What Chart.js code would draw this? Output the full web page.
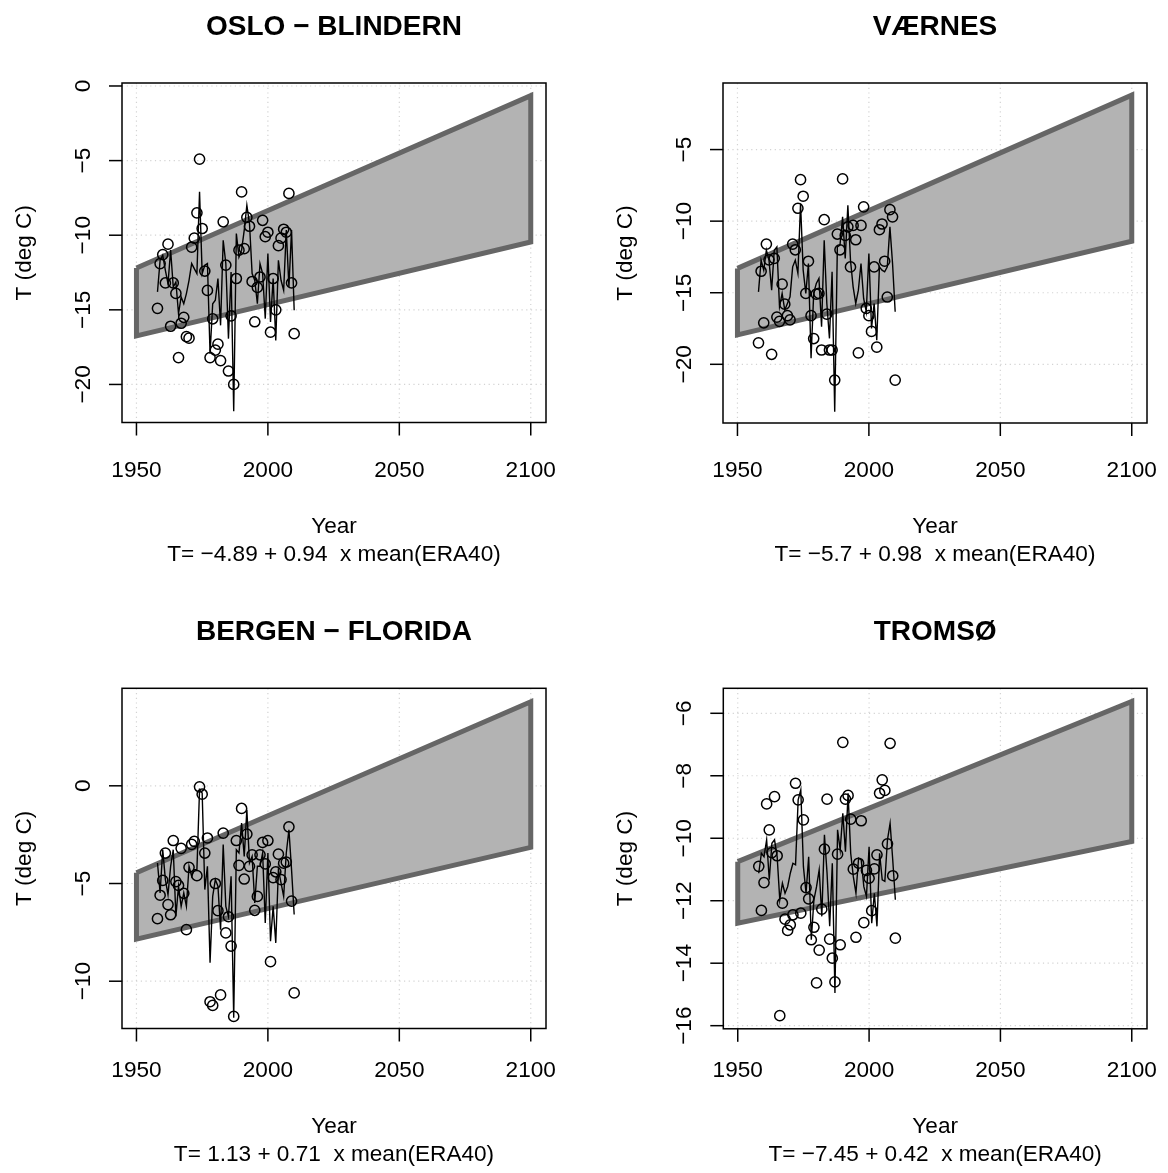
<!DOCTYPE html>
<html>
<head>
<meta charset="utf-8">
<script src="https://cdn.jsdelivr.net/npm/chart.js@4.4.1/dist/chart.umd.min.js"></script>
<style>
  body { margin: 0; background: #fff; width: 1168px; height: 1173px; position: relative; overflow: hidden; }
  .panel { position: absolute; }
</style>
</head>
<body>
<div class="panel" style="left:0;top:0"><canvas id="oslo" width="584" height="587"></canvas></div>
<div class="panel" style="left:584px;top:0"><canvas id="varnes" width="584" height="587"></canvas></div>
<div class="panel" style="left:0;top:586px"><canvas id="bergen" width="584" height="587"></canvas></div>
<div class="panel" style="left:584px;top:586px"><canvas id="tromso" width="584" height="587"></canvas></div>
<script>
// years with observations / downscaled values
const years = [1958, 1959, 1960, 1961, 1962, 1963, 1964, 1965, 1966, 1967,
  1968, 1969, 1970, 1971, 1972, 1973, 1974, 1975, 1976, 1977,
  1978, 1979, 1980, 1981, 1982, 1983, 1984, 1985, 1986, 1987,
  1988, 1989, 1990, 1991, 1992, 1993, 1994, 1995, 1996, 1997,
  1998, 1999, 2000, 2001, 2002, 2003, 2004, 2005, 2006, 2007,
  2008, 2009, 2010];
const bandYears = [1950, 2100];
const xTicks = [1950, 2000, 2050, 2100];

// OSLO - BLINDERN
const osloObs = [-14.9, -11.9, -11.3, -13.2, -10.6, -16.1, -13.2, -13.9, -18.2, -15.9,
  -15.5, -16.8, -16.9, -10.8, -10.2, -8.5, -4.9, -9.55, -12.4, -13.7,
  -18.2, -15.6, -17.7, -17.3, -18.4, -9.1, -12.0, -19.1, -15.4, -20.0,
  -12.9, -11.0, -7.1, -10.9, -8.8, -9.4, -13.1, -15.8, -13.5, -12.8,
  -9.0, -10.1, -9.8, -16.5, -12.9, -15.0, -10.7, -10.2, -9.6, -9.8,
  -7.2, -13.2, -16.6];
const osloModel = [-13.8, -11.68, -11.34, -12.35, -13.24, -11.0, -13.47, -13.13, -15.26, -14.14,
  -14.59, -13.91, -13.02, -11.9, -12.24, -12.57, -7.09, -12.57, -12.01, -11.9,
  -17.94, -14.59, -14.36, -12.91, -16.04, -10.34, -11.9, -16.93, -12.46, -21.79,
  -9.89, -11.46, -11.0, -9.66, -7.99, -9.22, -12.57, -13.02, -14.59, -11.9,
  -12.57, -15.59, -11.23, -15.82, -12.91, -17.05, -11.68, -13.02, -13.69, -9.66,
  -13.47, -9.66, -15.03];
const osloUpper = [-12.2, -0.65];
const osloLower = [-16.75, -10.45];
const osloYTicks = [0, -5, -10, -15, -20];

// VÆRNES
const varnesObs = [-18.5, -13.5, -17.1, -11.6, -12.7, -19.3, -12.6, -16.7, -17.0, -14.4,
  -15.8, -16.6, -16.9, -11.6, -12.0, -9.1, -7.1, -8.26, -15.05, -12.8,
  -16.6, -18.2, -15.1, -15.05, -19.0, -9.9, -16.5, -19.0, -19.0, -21.1,
  -10.9, -12.0, -7.05, -11.0, -10.4, -13.2, -10.3, -11.3, -19.2, -10.3,
  -9.0, -16.1, -16.6, -17.7, -13.2, -18.8, -10.6, -10.2, -12.8, -15.3,
  -9.2, -9.7, -21.1];
const varnesModel = [-14.94, -12.73, -13.42, -12.03, -12.73, -14.82, -12.03, -11.8, -15.98, -15.05,
  -16.21, -15.75, -15.29, -13.19, -12.73, -13.65, -8.77, -13.42, -15.05, -12.96,
  -19.58, -15.05, -14.35, -14.0, -17.38, -11.33, -15.75, -18.19, -13.54, -23.31,
  -11.8, -11.68, -9.7, -12.61, -8.89, -12.73, -14.59, -15.75, -14.82, -12.96,
  -15.4, -16.33, -12.26, -17.49, -15.75, -18.31, -13.19, -13.42, -13.54, -13.19,
  -10.4, -12.96, -16.33];
const varnesUpper = [-13.3, -1.2];
const varnesLower = [-17.95, -11.4];
const varnesYTicks = [-5, -10, -15, -20];

// BERGEN - FLORIDA
const bergenObs = [-6.8, -5.6, -4.84, -3.44, -6.08, -6.6, -2.8, -4.9, -5.1, -3.2,
  -5.5, -7.36, -4.17, -3.0, -2.84, -4.6, -0.05, -0.43, -3.44, -2.67,
  -11.05, -11.24, -5.0, -6.39, -10.7, -2.42, -7.53, -6.7, -8.2, -11.8,
  -2.8, -4.07, -1.16, -4.77, -2.47, -4.12, -3.53, -6.37, -5.66, -3.53,
  -2.9, -4.0, -2.8, -9.0, -4.7, -4.4, -3.5, -4.8, -3.96, -3.9,
  -2.1, -5.9, -10.6];
const bergenModel = [-3.95, -5.48, -3.27, -4.8, -5.57, -4.12, -3.27, -6.68, -5.14, -6.17,
  -5.48, -6.17, -4.12, -4.63, -4.29, -4.29, -0.2, -0.37, -5.31, -4.12,
  -9.06, -5.66, -4.8, -5.14, -7.36, -3.01, -6.17, -6.68, -4.63, -11.87,
  -3.27, -3.44, -1.91, -3.61, -1.23, -3.95, -3.61, -5.99, -4.12, -4.12,
  -3.44, -7.02, -3.44, -7.95, -6.17, -8.04, -4.29, -4.97, -5.66, -3.44,
  -2.25, -4.29, -6.59];
const bergenUpper = [-4.45, 4.3];
const bergenLower = [-7.85, -3.15];
const bergenYTicks = [0, -5, -10];

// TROMSØ
const tromsoObs = [-10.9, -12.31, -11.42, -8.9, -9.73, -10.46, -8.67, -10.56, -15.68, -12.08,
  -12.59, -12.95, -12.77, -12.45, -8.24, -8.77, -12.4, -9.41, -11.58, -11.94,
  -13.25, -12.85, -14.63, -13.58, -12.27, -10.35, -8.75, -13.23, -13.84, -14.6,
  -10.51, -13.41, -6.93, -8.75, -8.63, -9.39, -10.99, -13.17, -10.8, -9.44,
  -12.7, -11.03, -11.28, -12.32, -10.98, -10.53, -8.56, -8.13, -8.47, -10.18,
  -6.96, -11.2, -13.2];
const tromsoModel = [-11.12, -10.48, -10.59, -10.05, -11.33, -10.16, -10.05, -10.59, -11.97, -11.44,
  -11.76, -11.55, -11.12, -10.8, -10.85, -8.77, -8.45, -10.91, -11.76, -10.59,
  -13.25, -11.97, -11.55, -11.01, -12.5, -9.89, -11.12, -12.82, -10.8, -14.95,
  -9.73, -10.37, -9.2, -10.43, -8.56, -10.48, -11.23, -11.76, -10.64, -10.69,
  -11.55, -11.86, -10.27, -12.72, -11.76, -12.82, -10.48, -11.33, -11.38, -10.05,
  -9.52, -10.69, -11.97];
const tromsoUpper = [-10.75, -5.62];
const tromsoLower = [-12.72, -10.1];
const tromsoYTicks = [-6, -8, -10, -12, -14, -16];

const FONT = '"Liberation Sans", Arial, Helvetica, sans-serif';
const minus = v => String(v).replace('-', '\u2212');

const panels = [
  { id: 'oslo', title: 'OSLO \u2212 BLINDERN', formula: 'T= \u22124.89 + 0.94  x mean(ERA40)',
    obs: osloObs, model: osloModel, upper: osloUpper, lower: osloLower, yTicks: osloYTicks,
    yMin: -22.55, yMax: 0.2, box: { l: 122, t: 83, r: 546, b: 422.5 }, textDy: 0 },
  { id: 'varnes', title: 'V\u00c6RNES', formula: 'T= \u22125.7 + 0.98  x mean(ERA40)',
    obs: varnesObs, model: varnesModel, upper: varnesUpper, lower: varnesLower, yTicks: varnesYTicks,
    yMin: -24.1, yMax: -0.35, box: { l: 139, t: 83, r: 563, b: 423 }, textDy: 0 },
  { id: 'bergen', title: 'BERGEN \u2212 FLORIDA', formula: 'T= 1.13 + 0.71  x mean(ERA40)',
    obs: bergenObs, model: bergenModel, upper: bergenUpper, lower: bergenLower, yTicks: bergenYTicks,
    yMin: -12.42, yMax: 4.99, box: { l: 122, t: 102.3, r: 546, b: 442.5 }, textDy: -6 },
  { id: 'tromso', title: 'TROMS\u00d8', formula: 'T= \u22127.45 + 0.42  x mean(ERA40)',
    obs: tromsoObs, model: tromsoModel, upper: tromsoUpper, lower: tromsoLower, yTicks: tromsoYTicks,
    yMin: -16.1, yMax: -5.2, box: { l: 139.3, t: 102.3, r: 563, b: 442.8 }, textDy: -6 }
];

// R-style frame: dotted grid, box, outside ticks, rotated y labels, titles
const rframe = {
  id: 'rframe',
  beforeDatasetsDraw(chart, args, opts) {
    const { ctx, chartArea: a, scales: { x, y } } = chart;
    ctx.save();
    ctx.strokeStyle = '#d3d3d3';
    ctx.lineWidth = 1.2;
    ctx.setLineDash([1.2, 3.5]);
    opts.xTicks.forEach(v => {
      const px = x.getPixelForValue(v);
      ctx.beginPath(); ctx.moveTo(px, a.top); ctx.lineTo(px, a.bottom); ctx.stroke();
    });
    opts.yTicks.forEach(v => {
      const py = y.getPixelForValue(v);
      ctx.beginPath(); ctx.moveTo(a.left, py); ctx.lineTo(a.right, py); ctx.stroke();
    });
    ctx.restore();
  },
  afterDraw(chart, args, opts) {
    const { ctx, chartArea: a, scales: { x, y } } = chart;
    const cx = (a.left + a.right) / 2;
    const dy = opts.textDy;
    ctx.save();
    ctx.strokeStyle = '#000';
    ctx.lineWidth = 1.5;
    ctx.strokeRect(a.left, a.top, a.right - a.left, a.bottom - a.top);
    ctx.fillStyle = '#000';
    ctx.font = '22.6px ' + FONT;
    ctx.textAlign = 'center';
    ctx.textBaseline = 'alphabetic';
    opts.xTicks.forEach(v => {
      const px = x.getPixelForValue(v);
      ctx.beginPath(); ctx.moveTo(px, a.bottom); ctx.lineTo(px, a.bottom + 13); ctx.stroke();
      ctx.fillText(String(v), px, a.bottom + 54 + dy);
    });
    opts.yTicks.forEach(v => {
      const py = y.getPixelForValue(v);
      ctx.beginPath(); ctx.moveTo(a.left, py); ctx.lineTo(a.left - 13, py); ctx.stroke();
      ctx.save();
      ctx.translate(a.left - 32, py);
      ctx.rotate(-Math.PI / 2);
      ctx.fillText(minus(v), 0, 0);
      ctx.restore();
    });
    ctx.save();
    ctx.translate(a.left - 91, (a.top + a.bottom) / 2);
    ctx.rotate(-Math.PI / 2);
    ctx.fillText('T (deg C)', 0, 0);
    ctx.restore();
    ctx.fillText('Year', cx, a.bottom + 110 + dy);
    ctx.fillText(opts.formula, cx, a.bottom + 138 + dy);
    ctx.font = 'bold 28px ' + FONT;
    ctx.fillText(opts.title, cx, a.top - 48);
    ctx.restore();
  }
};

panels.forEach(p => {
  const W = 584, H = 587;
  const pts = (xs, ys) => xs.map((v, i) => ({ x: v, y: ys[i] }));
  const outline = [
    { x: bandYears[0], y: p.upper[0] }, { x: bandYears[1], y: p.upper[1] },
    { x: bandYears[1], y: p.lower[1] }, { x: bandYears[0], y: p.lower[0] },
    { x: bandYears[0], y: p.upper[0] }
  ];
  new Chart(document.getElementById(p.id), {
    type: 'scatter',
    data: {
      datasets: [
        { data: pts(years, p.obs), showLine: false, pointStyle: 'circle', pointRadius: 5.1,
          pointBorderWidth: 1.5, pointBorderColor: '#000', pointBackgroundColor: 'rgba(0,0,0,0)', order: 0 },
        { data: pts(years, p.model), showLine: true, borderColor: '#000', borderWidth: 1.4,
          pointRadius: 0, tension: 0, fill: false, order: 1 },
        { data: outline, showLine: true, borderColor: '#666666', borderWidth: 5,
          borderJoinStyle: 'miter', pointRadius: 0, fill: false, order: 2 },
        { data: pts(bandYears, p.upper), showLine: true, borderWidth: 0, pointRadius: 0,
          backgroundColor: '#b3b3b3', fill: '+1', order: 3 },
        { data: pts(bandYears, p.lower), showLine: true, borderWidth: 0, pointRadius: 0,
          fill: false, order: 4 }
      ]
    },
    options: {
      responsive: false,
      animation: false,
      devicePixelRatio: 1,
      layout: { padding: { left: p.box.l, top: p.box.t, right: W - p.box.r, bottom: H - p.box.b } },
      scales: {
        x: { type: 'linear', min: 1944.5, max: 2105.8, display: false },
        y: { type: 'linear', min: p.yMin, max: p.yMax, display: false }
      },
      plugins: {
        legend: { display: false },
        tooltip: { enabled: false },
        rframe: { title: p.title, formula: p.formula, xTicks: xTicks, yTicks: p.yTicks, textDy: p.textDy }
      }
    },
    plugins: [rframe]
  });
});
</script>
</body>
</html>
